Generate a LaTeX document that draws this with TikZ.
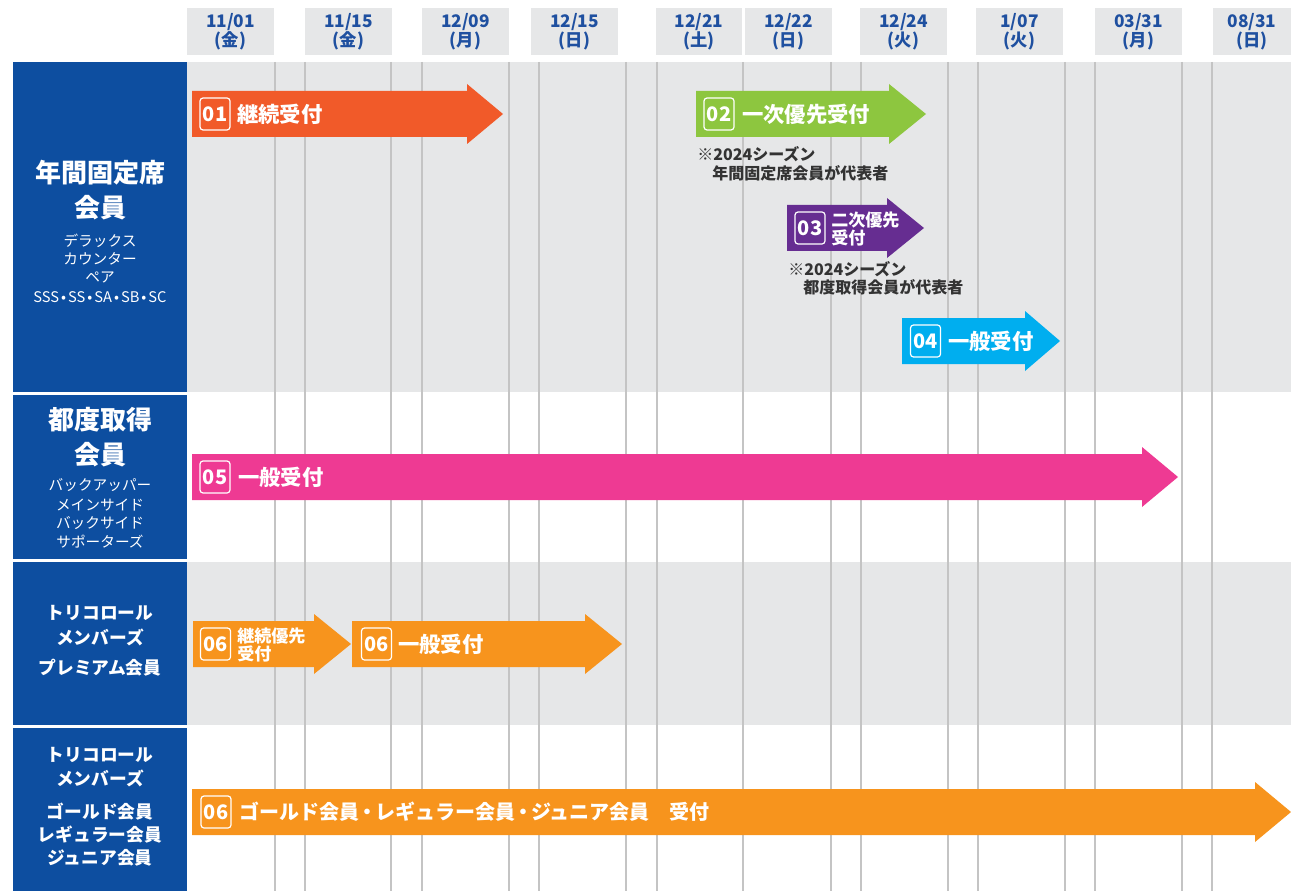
\documentclass[tikz,border=0pt]{standalone}
\usepackage{fontspec}
\setmainfont{Noto Sans CJK JP}
\newdimen\px \px=0.75pt
\definecolor{leftblue}{HTML}{0D4EA0}
\definecolor{hdrblue}{HTML}{1F50A0}
\definecolor{bandgray}{HTML}{E6E7E8}
\definecolor{gridgray}{HTML}{C4C4C4}
\definecolor{notegray}{HTML}{333333}
\definecolor{c01}{HTML}{F15A29}
\definecolor{c02}{HTML}{8DC63F}
\definecolor{c03}{HTML}{662D91}
\definecolor{c04}{HTML}{00AEEF}
\definecolor{c05}{HTML}{EE3A93}
\definecolor{c06}{HTML}{F7941D}
\newcommand\chevarrow[5]{%
  \fill[#1] (#2,#5-23) -- (#3,#5-23) -- (#3,#5-30) -- (#4,#5) -- (#3,#5+30) -- (#3,#5+23) -- (#2,#5+23) -- cycle;}
\newcommand\wdot{\kern2\px•\kern2\px}
\newcommand\ndot{\kern-2\px・\kern-2\px}
\begin{document}
\begin{tikzpicture}[x=0.75pt,y=-0.75pt,
  hdr/.style={fill=bandgray,text=hdrblue,align=center,inner sep=0pt,
    minimum width=87\px,minimum height=47\px,
    font=\bfseries\fontsize{13}{14.5}\selectfont},
  bigtxt/.style={text=white,inner sep=0pt,font=\bfseries\fontsize{19.5}{22}\selectfont},
  smalltxt/.style={text=white,inner sep=0pt,font=\fontsize{11}{12}\selectfont},
  midtxt/.style={text=white,inner sep=0pt,font=\bfseries\fontsize{13.3}{15}\selectfont},
  numbox/.style={draw=white,line width=1.2\px,rounded corners=3\px,text=white,
    minimum width=30\px,minimum height=32\px,inner sep=0pt,
    font=\bfseries\fontsize{15}{16}\selectfont},
  lbl/.style={text=white,anchor=west,inner sep=0pt,font=\bfseries\fontsize{16}{18}\selectfont},
  lbltwo/.style={text=white,anchor=west,inner sep=0pt,align=left,
    font=\bfseries\fontsize{12.8}{13.5}\selectfont},
  note/.style={text=notegray,anchor=west,inner sep=0pt,font=\bfseries\fontsize{12}{13}\selectfont},
  gridline/.style={draw=gridgray,line width=2\px}]
\useasboundingbox (0,0) rectangle (1291,891);
% bands
\fill[bandgray] (187,62) rectangle (1291,392);
\fill[bandgray] (187,562) rectangle (1291,725);
% grid lines
\foreach \x in {274.5,304.5,391,422,508.5,539,626,656.5,743,830.5,860.5,947.5,977.5,1065,1095,1182,1212}
  \draw[gridline] (\x,62) -- (\x,891);
% left blue column
\fill[leftblue] (13,62) rectangle (187,392);
\fill[leftblue] (13,395) rectangle (187,559);
\fill[leftblue] (13,562) rectangle (187,725);
\fill[leftblue] (13,728) rectangle (187,891);
% headers
\node[hdr] (d1) at (230.5,32) {11/01\\(金)};
\node[hdr] (d2) at (348.5,32) {11/15\\(金)};
\node[hdr] (d3) at (465.5,32) {12/09\\(月)};
\node[hdr] (d4) at (574.5,32) {12/15\\(日)};
\node[hdr,minimum width=86\px] (d5) at (699,32) {12/21\\(土)};
\node[hdr] (d6) at (788.5,32) {12/22\\(日)};
\node[hdr] (d7) at (903.5,32) {12/24\\(火)};
\node[hdr] (d8) at (1019.5,32) {1/07\\(火)};
\node[hdr] (d9) at (1138.5,32) {03/31\\(月)};
\node[hdr,minimum width=78\px] (d10) at (1252,32) {08/31\\(日)};
% row 1 labels
\node[bigtxt] (r1a) at (100,173) {年間固定席};
\node[bigtxt] (r1b) at (100,208) {会員};
\node[smalltxt] (r1c) at (100,241) {デラックス};
\node[smalltxt] (r1d) at (100,259) {カウンター};
\node[smalltxt] (r1e) at (100,277) {ペア};
\node[smalltxt] (r1f) at (100,297) {SSS\wdot SS\wdot SA\wdot SB\wdot SC};
% row 2 labels
\node[bigtxt] (r2a) at (100,420) {都度取得};
\node[bigtxt] (r2b) at (100,455) {会員};
\node[smalltxt] (r2c) at (100,485) {バックアッパー};
\node[smalltxt] (r2d) at (100,505) {メインサイド};
\node[smalltxt] (r2e) at (100,523) {バックサイド};
\node[smalltxt] (r2f) at (100,542) {サポーターズ};
% row 3 labels
\node[midtxt] (r3a) at (100,613) {トリコロール};
\node[midtxt] (r3b) at (100,637) {メンバーズ};
\node[midtxt] (r3c) at (100,668) {プレミアム会員};
% row 4 labels
\node[midtxt] (r4a) at (100,755) {トリコロール};
\node[midtxt] (r4b) at (100,778) {メンバーズ};
\node[midtxt] (r4c) at (100,812) {ゴールド会員};
\node[midtxt] (r4d) at (100,835) {レギュラー会員};
\node[midtxt] (r4e) at (100,858) {ジュニア会員};
% arrows
\chevarrow{c01}{192}{467}{503}{114}
\chevarrow{c02}{696}{889}{926}{114}
\chevarrow{c03}{787}{887}{924}{228}
\chevarrow{c04}{902}{1025}{1060}{341}
\chevarrow{c05}{192}{1142}{1178}{477}
\chevarrow{c06}{193}{314}{351}{644}
\chevarrow{c06}{352}{585}{622}{644}
\chevarrow{c06}{192}{1255}{1291}{812}
% arrow labels
\node[numbox] (n01) at (215,114) {01};
\node[lbl] (t01) at (237,114) {継続受付};
\node[numbox] (n02) at (719,114) {02};
\node[lbl] (t02) at (742,114) {一次優先受付};
\node[note] (m02a) at (697,154) {※2024シーズン};
\node[note] (m02b) at (712,173) {年間固定席会員が代表者};
\node[numbox] (n03) at (810,228) {03};
\node[lbltwo] (t03) at (831,229) {二次優先\\受付};
\node[note] (m03a) at (788,269) {※2024シーズン};
\node[note] (m03b) at (803,287) {都度取得会員が代表者};
\node[numbox] (n04) at (925.5,341) {04};
\node[lbl] (t04) at (948,341) {一般受付};
\node[numbox] (n05) at (215,477) {05};
\node[lbl] (t05) at (238,477) {一般受付};
\node[numbox] (n06a) at (215.5,644) {06};
\node[lbltwo] (t06a) at (237,645) {継続優先\\受付};
\node[numbox] (n06b) at (376.5,644) {06};
\node[lbl] (t06b) at (398,644) {一般受付};
\node[numbox] (n07) at (216,812) {06};
\node[lbl,font=\bfseries\fontsize{15}{17}\selectfont] (t07) at (239,812) {ゴールド会員\ndot レギュラー会員\ndot ジュニア会員　受付};
\end{tikzpicture}
\end{document}
